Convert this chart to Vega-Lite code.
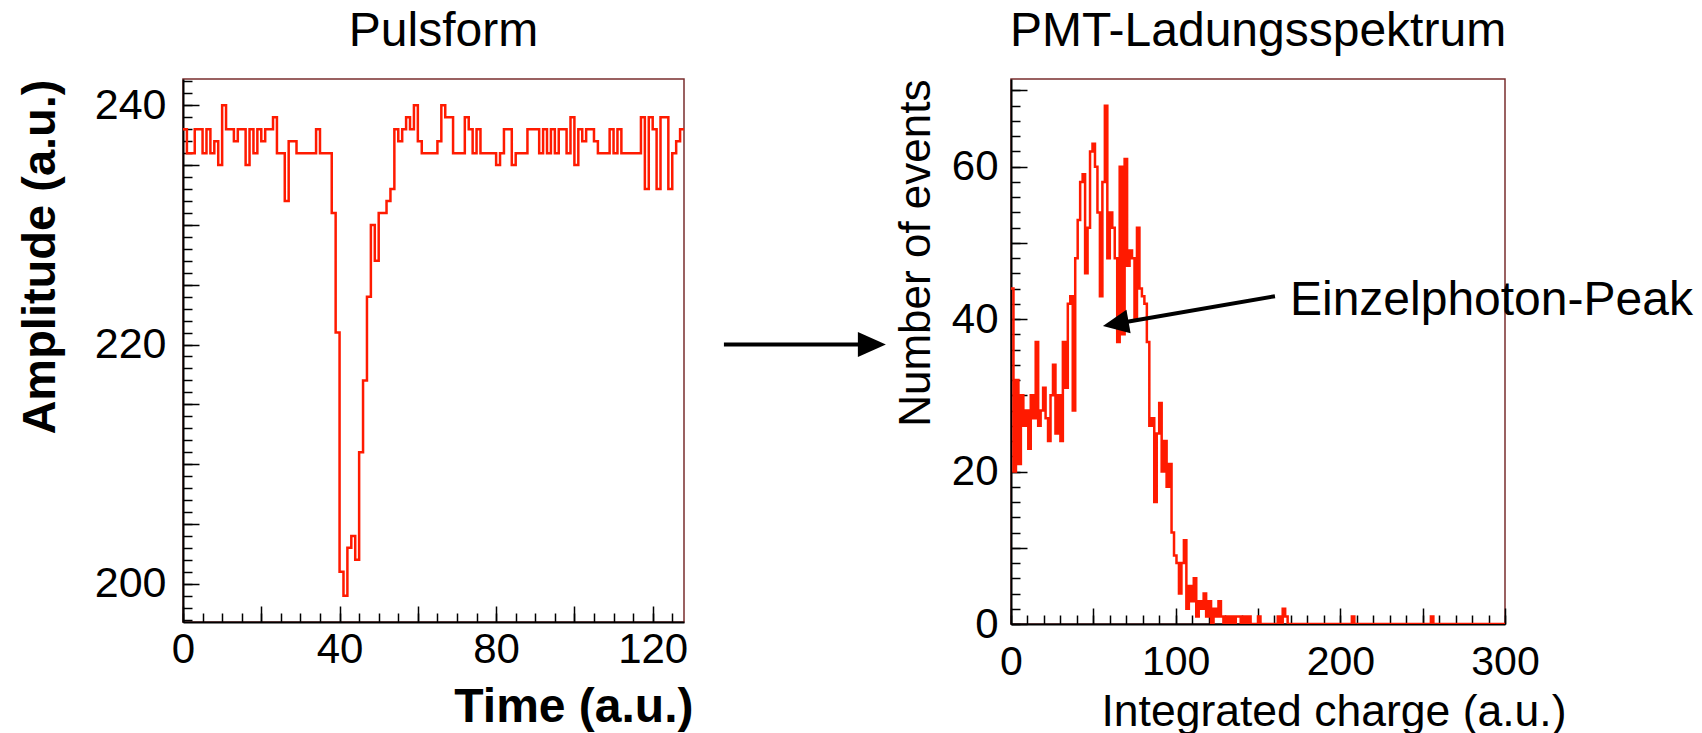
{
  "$schema": "https://vega.github.io/schema/vega-lite/v6.json",
  "background": "white",
  "autosize": {"type": "pad"},
  "padding": {"left": 15, "top": 7, "right": 0, "bottom": 0},
  "spacing": 6,
  "config": {
    "font": "Liberation Sans",
    "view": {"stroke": "#7a2e2e", "strokeWidth": 1.5},
    "axis": {"grid": false, "domainColor": "black", "domainWidth": 2, "tickColor": "black", "tickWidth": 1.5, "labelColor": "black", "titleColor": "black", "labelFont": "Liberation Sans", "titleFont": "Liberation Sans", "labelFlush": false, "labelOverlap": false, "labelBound": false},
    "title": {"font": "Liberation Sans", "fontWeight": "normal", "color": "black"}
  },
  "datasets": {
    "pulse": [
      {"t":0,"a":238},{"t":1,"a":236},{"t":2,"a":236},{"t":3,"a":238},{"t":4,"a":238},{"t":5,"a":236},{"t":6,"a":238},{"t":7,"a":236},{"t":8,"a":237},{"t":9,"a":235},
      {"t":10,"a":240},{"t":11,"a":238},{"t":12,"a":238},{"t":13,"a":237},{"t":14,"a":238},{"t":15,"a":238},{"t":16,"a":235},{"t":17,"a":238},{"t":18,"a":236},{"t":19,"a":238},
      {"t":20,"a":237},{"t":21,"a":238},{"t":22,"a":238},{"t":23,"a":239},{"t":24,"a":236},{"t":25,"a":236},{"t":26,"a":232},{"t":27,"a":237},{"t":28,"a":237},{"t":29,"a":236},
      {"t":30,"a":236},{"t":31,"a":236},{"t":32,"a":236},{"t":33,"a":236},{"t":34,"a":238},{"t":35,"a":236},{"t":36,"a":236},{"t":37,"a":236},{"t":38,"a":231},{"t":39,"a":221},
      {"t":40,"a":201},{"t":41,"a":199},{"t":42,"a":203},{"t":43,"a":204},{"t":44,"a":202},{"t":45,"a":211},{"t":46,"a":217},{"t":47,"a":224},{"t":48,"a":230},{"t":49,"a":227},
      {"t":50,"a":231},{"t":51,"a":231},{"t":52,"a":232},{"t":53,"a":233},{"t":54,"a":238},{"t":55,"a":237},{"t":56,"a":238},{"t":57,"a":239},{"t":58,"a":238},{"t":59,"a":240},
      {"t":60,"a":237},{"t":61,"a":236},{"t":62,"a":236},{"t":63,"a":236},{"t":64,"a":236},{"t":65,"a":237},{"t":66,"a":240},{"t":67,"a":239},{"t":68,"a":239},{"t":69,"a":236},
      {"t":70,"a":236},{"t":71,"a":236},{"t":72,"a":239},{"t":73,"a":238},{"t":74,"a":236},{"t":75,"a":238},{"t":76,"a":236},{"t":77,"a":236},{"t":78,"a":236},{"t":79,"a":236},
      {"t":80,"a":235},{"t":81,"a":236},{"t":82,"a":238},{"t":83,"a":238},{"t":84,"a":235},{"t":85,"a":236},{"t":86,"a":236},{"t":87,"a":236},{"t":88,"a":238},{"t":89,"a":238},
      {"t":90,"a":238},{"t":91,"a":236},{"t":92,"a":238},{"t":93,"a":236},{"t":94,"a":238},{"t":95,"a":236},{"t":96,"a":238},{"t":97,"a":238},{"t":98,"a":236},{"t":99,"a":239},
      {"t":100,"a":235},{"t":101,"a":238},{"t":102,"a":237},{"t":103,"a":238},{"t":104,"a":238},{"t":105,"a":237},{"t":106,"a":236},{"t":107,"a":236},{"t":108,"a":236},{"t":109,"a":238},
      {"t":110,"a":236},{"t":111,"a":238},{"t":112,"a":236},{"t":113,"a":236},{"t":114,"a":236},{"t":115,"a":236},{"t":116,"a":236},{"t":117,"a":239},{"t":118,"a":233},{"t":119,"a":239},
      {"t":120,"a":238},{"t":121,"a":233},{"t":122,"a":239},{"t":123,"a":239},{"t":124,"a":233},{"t":125,"a":236},{"t":126,"a":237},{"t":127,"a":238},{"t":128,"a":238}
    ],
    "pulseArrow": [{"x1": 138.2, "x2": 173, "y": 220}],
    "pulseHead": [{"x": 176, "y": 220}],
    "spectrum": [
      {"q":0,"n":44},{"q":1.5,"n":20},{"q":3,"n":32},{"q":4.5,"n":21},{"q":6,"n":30},{"q":7.5,"n":26},{"q":9,"n":28},{"q":10.5,"n":23},{"q":12,"n":30},{"q":13.5,"n":27},
      {"q":15,"n":37},{"q":16.5,"n":26},{"q":18,"n":28},{"q":19.5,"n":31},{"q":21,"n":27},{"q":22.5,"n":24},{"q":24,"n":30},{"q":25.5,"n":34},{"q":27,"n":25},{"q":28.5,"n":30},
      {"q":30,"n":24},{"q":31.5,"n":37},{"q":33,"n":31},{"q":34.5,"n":42},{"q":36,"n":43},{"q":37.5,"n":28},{"q":39,"n":48},{"q":40.5,"n":53},{"q":42,"n":58},{"q":43.5,"n":59},
      {"q":45,"n":46},{"q":46.5,"n":52},{"q":48,"n":62},{"q":49.5,"n":63},{"q":51,"n":60},{"q":52.5,"n":54},{"q":54,"n":43},{"q":55.5,"n":58},{"q":57,"n":68},{"q":58.5,"n":48},
      {"q":60,"n":54},{"q":61.5,"n":52},{"q":63,"n":48},{"q":64.5,"n":37},{"q":66,"n":60},{"q":67.5,"n":38},{"q":69,"n":61},{"q":70.5,"n":47},{"q":72,"n":49},{"q":73.5,"n":48},
      {"q":75,"n":40},{"q":76.5,"n":52},{"q":78,"n":44},{"q":79.5,"n":43},{"q":81,"n":42},{"q":82.5,"n":37},{"q":84,"n":26},{"q":85.5,"n":27},{"q":87,"n":16},{"q":88.5,"n":25},
      {"q":90,"n":29},{"q":91.5,"n":20},{"q":93,"n":24},{"q":94.5,"n":18},{"q":96,"n":21},{"q":97.5,"n":12},{"q":99,"n":9},{"q":100.5,"n":8},{"q":102,"n":4},{"q":103.5,"n":8},
      {"q":105,"n":11},{"q":106.5,"n":2},{"q":108,"n":5},{"q":109.5,"n":3},{"q":111,"n":6},{"q":112.5,"n":1},{"q":114,"n":3},{"q":115.5,"n":2},{"q":117,"n":4},{"q":118.5,"n":1},
      {"q":120,"n":3},{"q":121.5,"n":0},{"q":123,"n":2},{"q":124.5,"n":1},{"q":126,"n":3},{"q":127.5,"n":1},{"q":129,"n":0},{"q":130.5,"n":1},{"q":132,"n":0},{"q":133.5,"n":1},
      {"q":135,"n":0},{"q":136.5,"n":1},{"q":138,"n":1},{"q":139.5,"n":0},{"q":141,"n":1},{"q":142.5,"n":0},{"q":144,"n":1},{"q":145.5,"n":0},{"q":150,"n":1},{"q":151.5,"n":0},
      {"q":162,"n":1},{"q":163.5,"n":0},{"q":165,"n":2},{"q":166.5,"n":1},{"q":168,"n":0},{"q":207,"n":1},{"q":208.5,"n":0},{"q":255,"n":1},{"q":256.5,"n":0},{"q":300,"n":0}
    ],
    "noteArrow": [{"x": 160.3, "y": 43.0, "x2": 63.6, "y2": 39.4}],
    "noteHead": [{"x": 63.6, "y": 39.4}],
    "note": [{"x": 169.4, "y": 40.5, "label": "Einzelphoton-Peak"}]
  },
  "hconcat": [
    {
      "width": 501,
      "height": 543,
      "title": {"text": "Pulsform", "fontSize": 48, "offset": 23, "dx": 10},
      "resolve": {"axis": {"x": "independent", "y": "independent"}},
      "layer": [
        {
          "data": {"name": "pulse"},
          "mark": {"type": "line", "interpolate": "step-after", "color": "#ff1a00", "strokeWidth": 2.5, "clip": true},
          "encoding": {
            "x": {"field": "t", "type": "quantitative", "scale": {"domain": [0, 128], "nice": false, "zero": false},
              "axis": {"orient": "bottom", "values": [0, 20, 40, 60, 80, 100, 120], "labelExpr": "datum.value % 40 === 0 ? datum.label : ''", "tickSize": -16, "labelFontSize": 42, "labelPadding": 23, "title": "Time (a.u.)", "titleFontSize": 48, "titleFontWeight": "bold", "titleAnchor": "end", "titleAlign": "right", "titleX": 510, "titlePadding": 13}},
            "y": {"field": "a", "type": "quantitative", "scale": {"domain": [196.8, 242.2], "nice": false, "zero": false},
              "axis": {"orient": "left", "values": [200, 205, 210, 215, 220, 225, 230, 235, 240], "labelExpr": "datum.value % 20 === 0 ? datum.label : ''", "tickSize": -16, "labelFontSize": 43, "labelPadding": 33, "title": "Amplitude (a.u.)", "titleFontSize": 47, "titleFontWeight": "bold", "titleAnchor": "end", "titlePadding": 30}}
          }
        },
        {
          "data": {"name": "pulseArrow"},
          "mark": {"type": "rule", "color": "black", "strokeWidth": 4, "clip": false},
          "encoding": {
            "x": {"field": "x1", "type": "quantitative", "scale": {"domain": [0, 128], "nice": false, "zero": false},
              "axis": {"orient": "bottom", "values": [0,5,10,15,20,25,30,35,40,45,50,55,60,65,70,75,80,85,90,95,100,105,110,115,120,125], "tickSize": -9, "labels": false, "domain": false, "title": null}},
            "x2": {"field": "x2"},
            "y": {"field": "y", "type": "quantitative", "scale": {"domain": [196.8, 242.2], "nice": false, "zero": false},
              "axis": {"orient": "left", "values": [197,198,199,200,201,202,203,204,205,206,207,208,209,210,211,212,213,214,215,216,217,218,219,220,221,222,223,224,225,226,227,228,229,230,231,232,233,234,235,236,237,238,239,240,241,242], "tickSize": -9, "labels": false, "domain": false, "title": null}}
          }
        },
        {
          "data": {"name": "pulseHead"},
          "mark": {"type": "point", "shape": "M-1,-0.9L1,0L-1,0.9Z", "filled": true, "color": "black", "opacity": 1, "size": 784, "clip": false},
          "encoding": {
            "x": {"field": "x", "type": "quantitative", "axis": null},
            "y": {"field": "y", "type": "quantitative", "axis": null}
          }
        }
      ]
    },
    {
      "width": 494,
      "height": 545,
      "title": {"text": "PMT-Ladungsspektrum", "fontSize": 48, "offset": 23},
      "resolve": {"axis": {"x": "independent", "y": "independent"}},
      "layer": [
        {
          "data": {"name": "spectrum"},
          "mark": {"type": "line", "interpolate": "step-after", "color": "#ff1a00", "strokeWidth": 2.5, "clip": true},
          "encoding": {
            "x": {"field": "q", "type": "quantitative", "scale": {"domain": [0, 300], "nice": false, "zero": false},
              "axis": {"orient": "bottom", "values": [0, 50, 100, 150, 200, 250, 300], "labelExpr": "datum.value % 100 === 0 ? datum.label : ''", "tickSize": -16, "labelFontSize": 41, "labelPadding": 34, "title": "Integrated charge (a.u.)", "titleFontSize": 44.5, "titleFontWeight": "normal", "titleAnchor": "end", "titleAlign": "right", "titleX": 555, "titlePadding": 8}},
            "y": {"field": "n", "type": "quantitative", "scale": {"domain": [0, 71.5], "nice": false, "zero": false},
              "axis": {"orient": "left", "values": [0, 20, 40, 60], "tickSize": -16, "labelFontSize": 42, "labelPadding": 29, "title": "Number of events", "titleFontSize": 44, "titleFontWeight": "normal", "titleAnchor": "end", "titlePadding": 13}}
          }
        },
        {
          "data": {"name": "noteArrow"},
          "mark": {"type": "rule", "color": "black", "strokeWidth": 4, "clip": false},
          "encoding": {
            "x": {"field": "x", "type": "quantitative", "scale": {"domain": [0, 300], "nice": false, "zero": false},
              "axis": {"orient": "bottom", "values": [0,10,20,30,40,50,60,70,80,90,100,110,120,130,140,150,160,170,180,190,200,210,220,230,240,250,260,270,280,290,300], "tickSize": -9, "labels": false, "domain": false, "title": null}},
            "x2": {"field": "x2"},
            "y": {"field": "y", "type": "quantitative", "scale": {"domain": [0, 71.5], "nice": false, "zero": false},
              "axis": {"orient": "left", "values": [0,2,4,6,8,10,12,14,16,18,20,22,24,26,28,30,32,34,36,38,40,42,44,46,48,50,52,54,56,58,60,62,64,66,68,70], "tickSize": -9, "labels": false, "domain": false, "title": null}},
            "y2": {"field": "y2"}
          }
        },
        {
          "data": {"name": "noteHead"},
          "mark": {"type": "point", "shape": "M-1,-0.92L1,0L-1,0.92Z", "filled": true, "color": "black", "opacity": 1, "size": 676, "angle": 170, "clip": false},
          "encoding": {
            "x": {"field": "x", "type": "quantitative", "axis": null},
            "y": {"field": "y", "type": "quantitative", "scale": {"domain": [0, 71.5], "nice": false, "zero": false},
              "axis": {"orient": "left", "values": [10, 30, 50, 70], "tickSize": -16, "labels": false, "domain": false, "title": null}}
          }
        },
        {
          "data": {"name": "note"},
          "mark": {"type": "text", "align": "left", "baseline": "alphabetic", "fontSize": 48, "color": "black", "font": "Liberation Sans", "clip": false},
          "encoding": {
            "x": {"field": "x", "type": "quantitative", "axis": null},
            "y": {"field": "y", "type": "quantitative", "axis": null},
            "text": {"field": "label"}
          }
        }
      ]
    }
  ]
}
